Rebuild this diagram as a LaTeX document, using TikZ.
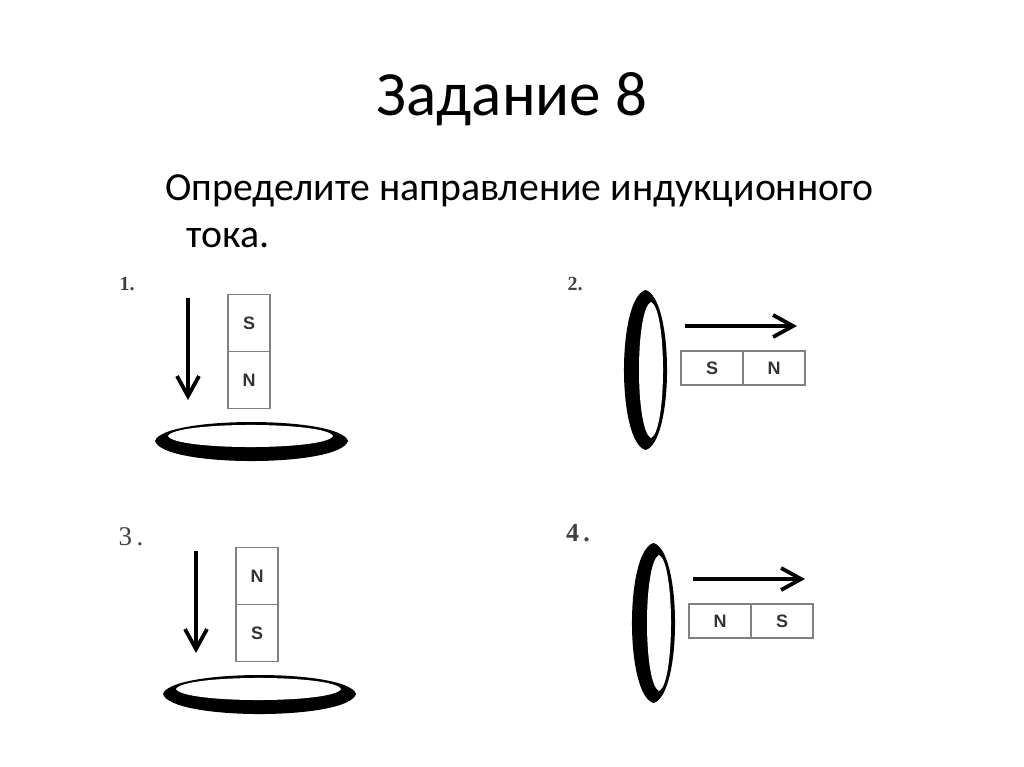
\documentclass[tikz,border=0pt]{standalone}
\usepackage{fontspec}
\setmainfont{Carlito}
\newfontfamily\numfont{Liberation Serif}
\newfontfamily\polefont{Liberation Sans}
\usetikzlibrary{arrows.meta}
\tikzset{
  magnetcell/.style={draw=black!50,line width=1.3pt,inner sep=0pt,text=black!80,font=\polefont\bfseries\fontsize{18}{18}\selectfont},
  movearrow/.style={line width=3.8pt,-{Straight Barb[length=20pt,width=22pt,line width=3.8pt]}},
  itemlabel/.style={font=\numfont\bfseries\fontsize{20}{20}\selectfont,text=black!75,inner sep=0pt}
}
\begin{document}
\begin{tikzpicture}[x=1pt,y=-1pt]
  \useasboundingbox (0,0) rectangle (1024,767);
  \node at (512,99) (title) {\fontsize{63}{63}\selectfont Задание 8};
  \node[anchor=west,inner sep=0pt] at (165,191) (lineA) {\fontsize{39.8}{40}\selectfont Определите направление индукционного};
  \node[anchor=west,inner sep=0pt] at (186,238) (lineB) {\fontsize{39.8}{40}\selectfont тока.};

  % 1
  \node[itemlabel] at (127,284) (labelA) {1.};
  \node[magnetcell,minimum width=42pt,minimum height=57pt] at (249,323) (poleAs) {S};
  \node[magnetcell,minimum width=42pt,minimum height=57pt] at (249,380) (poleAn) {N};
  \coordinate (startA) at (188,298);
  \coordinate (endA) at (188,400);
  \draw[movearrow] (startA) -- (endA);
  \fill (155,441) .. controls (163,415.7) and (340,415.7) .. (348,441) .. controls (340,467.7) and (163,467.7) .. (155,441);
  \fill[white] (168,436) .. controls (175,421.3) and (326,421.3) .. (333,436) .. controls (326,450.7) and (175,450.7) .. (168,436);

  % 2
  \node[itemlabel] at (575,284) (labelB) {2.};
  \fill (645.5,290) .. controls (616.8,298) and (616.8,442) .. (645.5,450) .. controls (674.2,442) and (674.2,298) .. (645.5,290);
  \fill[white] (651,302) .. controls (635,309) and (635,431) .. (651,438) .. controls (667,431) and (667,309) .. (651,302);
  \coordinate (startB) at (685,326);
  \coordinate (endB) at (797,326);
  \draw[movearrow] (startB) -- (endB);
  \node[magnetcell,minimum width=62pt,minimum height=34pt] at (712,368) (poleBs) {S};
  \node[magnetcell,minimum width=62pt,minimum height=34pt] at (774,368) (poleBn) {N};

  % 3
  \node[itemlabel,font=\numfont\fontsize{27}{27}\selectfont] at (131,537) (labelC) {3\,.};
  \node[magnetcell,minimum width=42pt,minimum height=57pt] at (257,576) (poleCn) {N};
  \node[magnetcell,minimum width=42pt,minimum height=57pt] at (257,633) (poleCs) {S};
  \coordinate (startC) at (196,551);
  \coordinate (endC) at (196,653);
  \draw[movearrow] (startC) -- (endC);
  \fill (163,694) .. controls (171,668.7) and (348,668.7) .. (356,694) .. controls (348,720.7) and (171,720.7) .. (163,694);
  \fill[white] (176,689) .. controls (183,674.3) and (334,674.3) .. (341,689) .. controls (334,703.7) and (183,703.7) .. (176,689);

  % 4
  \node[itemlabel,font=\numfont\bfseries\fontsize{26}{26}\selectfont] at (578,533) (labelD) {4\,.};
  \fill (653.5,543) .. controls (624.8,551) and (624.8,695) .. (653.5,703) .. controls (682.2,695) and (682.2,551) .. (653.5,543);
  \fill[white] (659,555) .. controls (643,562) and (643,684) .. (659,691) .. controls (675,684) and (675,562) .. (659,555);
  \coordinate (startD) at (693,579);
  \coordinate (endD) at (805,579);
  \draw[movearrow] (startD) -- (endD);
  \node[magnetcell,minimum width=62pt,minimum height=34pt] at (720,621) (poleDn) {N};
  \node[magnetcell,minimum width=62pt,minimum height=34pt] at (782,621) (poleDs) {S};
\end{tikzpicture}
\end{document}
